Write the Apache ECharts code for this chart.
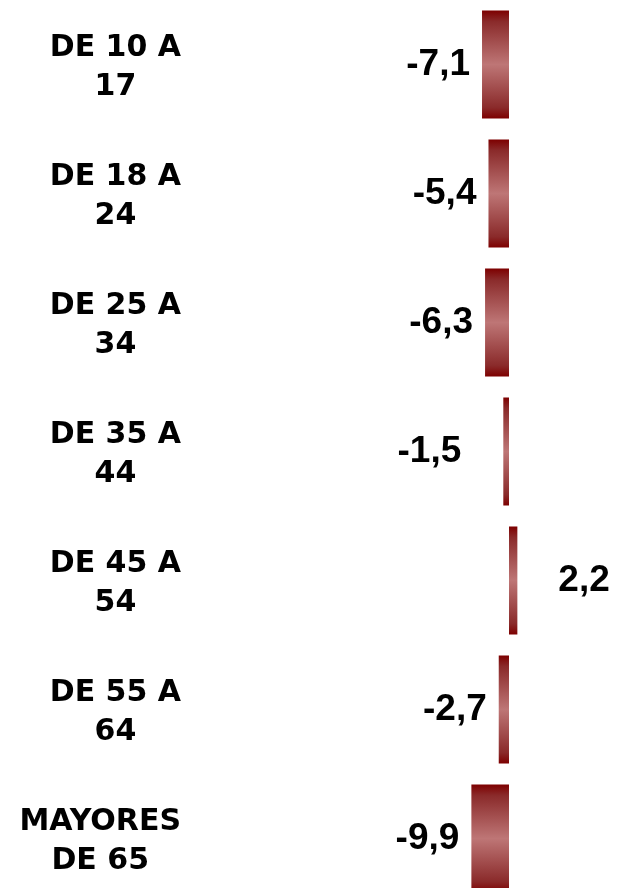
<!DOCTYPE html>
<html lang="es">
<head>
    <meta charset="UTF-8">
    <title>Variación por edad</title>
    <script src="https://cdn.jsdelivr.net/npm/echarts@6/dist/echarts.min.js"></script>
</head>
<body style="margin:0;background:#fff">
<div id="chart" style="width:617px;height:888px"></div>
<script>
    // grupos de edad
    var categories = ['DE 10 A\n17', 'DE 18 A\n24', 'DE 25 A\n34', 'DE 35 A\n44', 'DE 45 A\n54', 'DE 55 A\n64', 'MAYORES\nDE 65'];
    // variación (%)
    var values = [-7.1, -5.4, -6.3, -1.5, 2.2, -2.7, -9.9];
    // etiquetas movidas a mano en el original
    var labelGap = [12, 12, 12, 42, 41, 12, 12];

    var barColor = {
        type: 'linear', x: 0, y: 0, x2: 0, y2: 1,
        colorStops: [
            {offset: 0, color: '#7d0000'},
            {offset: 0.1, color: '#8a2a2a'},
            {offset: 0.5, color: '#be7676'},
            {offset: 0.9, color: '#8a2a2a'},
            {offset: 1, color: '#7d0000'}
        ]
    };

    var myChart = echarts.init(document.getElementById('chart'));
    var option = {
        animation: false,
        grid: {left: 357, right: 32, top: 0, height: 903, outerBoundsMode: 'none'},
        xAxis: {
            type: 'value', min: -40, max: 20, show: false
        },
        yAxis: {
            type: 'category',
            inverse: true,
            data: categories,
            axisLine: {show: false},
            axisTick: {show: false},
            splitLine: {show: false},
            axisLabel: {
                margin: 176,
                padding: [6, 0, 0, 0],
                formatter: function (v) {
                    return v.split('\n').map(function (s) { return '{a|' + s + '}'; }).join('\n');
                },
                rich: {
                    a: {
                        fontFamily: 'DejaVu Sans', fontWeight: 'bold', fontSize: 30,
                        lineHeight: 39, color: '#000', align: 'center'
                    }
                }
            }
        },
        series: [{
            type: 'bar',
            barWidth: 108,
            itemStyle: {color: barColor},
            data: values.map(function (v, i) {
                return {
                    value: v,
                    label: {
                        show: true,
                        position: v < 0 ? 'left' : 'right',
                        distance: labelGap[i],
                        fontFamily: 'Liberation Sans', fontWeight: 'bold', fontSize: 37,
                        color: '#000',
                        formatter: function (p) { return p.value.toFixed(1).replace('.', ','); }
                    }
                };
            })
        }]
    };
    myChart.setOption(option);
</script>
</body>
</html>
